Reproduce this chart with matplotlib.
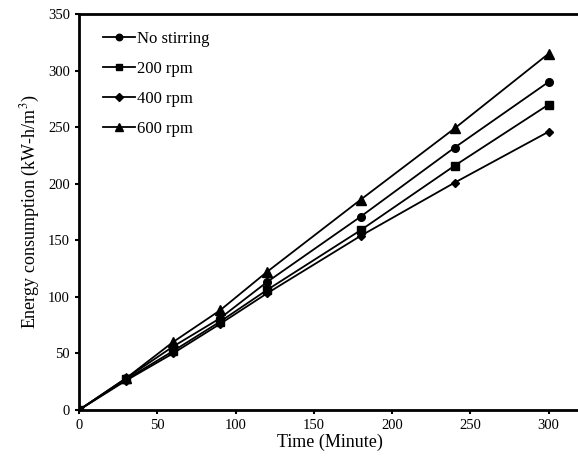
import matplotlib
matplotlib.use("Agg")
import matplotlib.pyplot as plt

plt.rcParams['font.family'] = ['Liberation Serif', 'DejaVu Serif']
plt.rcParams['mathtext.fontset'] = 'stix'

time = [0, 30, 60, 90, 120, 180, 240, 300]
no_stirring = [0, 28, 56, 81, 113, 171, 232, 290]
rpm200 = [0, 27, 52, 78, 106, 159, 216, 270]
rpm400 = [0, 26, 50, 76, 103, 154, 201, 246]
rpm600 = [0, 28, 60, 88, 122, 186, 249, 315]

series = [
    ("No stirring", no_stirring, "o", 5.5),
    ("200 rpm", rpm200, "s", 5.5),
    ("400 rpm", rpm400, "D", 4.5),
    ("600 rpm", rpm600, "^", 6.5),
]

fig = plt.figure(figsize=(5.78, 4.62), dpi=100)
ax = fig.add_axes([79/578, 52/462, 501/578, 396/462])

for label, vals, m, ms in series:
    ax.plot(time, vals, color="black", marker=m, markersize=ms, linewidth=1.3, label=label)

ax.set_xlim(0, 320)
ax.set_ylim(0, 350)
ax.set_xticks([0, 50, 100, 150, 200, 250, 300])
ax.set_yticks([0, 50, 100, 150, 200, 250, 300, 350])
ax.tick_params(direction="out", length=3, width=1.5, labelsize=10.5, colors="black")
for side in ["left", "bottom", "top"]:
    ax.spines[side].set_linewidth(2)
ax.spines["right"].set_visible(False)

ax.set_xlabel("Time (Minute)", fontsize=13, labelpad=1)
ax.set_ylabel("Energy consumption (kW-h/m$^3$)", fontsize=13, labelpad=4)

leg = ax.legend(loc="upper left", frameon=False, fontsize=12, handlelength=1.9,
                handletextpad=0.1, labelspacing=0.85, borderaxespad=0.0,
                markerscale=0.85, bbox_to_anchor=(0.035, 0.975))

fig.savefig("out.png", dpi=100)
